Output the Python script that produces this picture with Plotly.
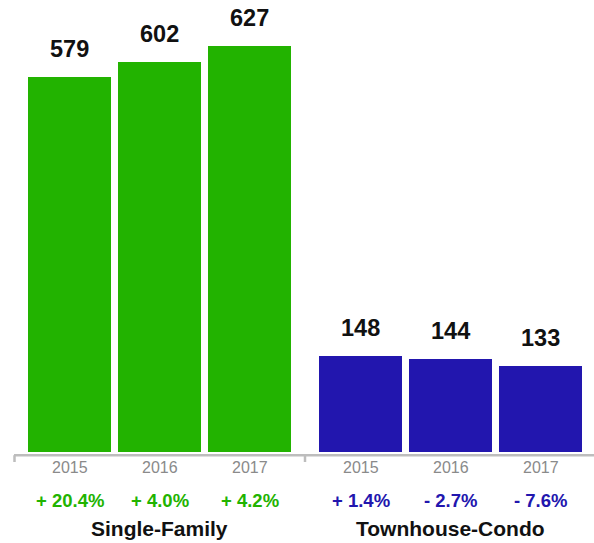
import plotly.graph_objects as go

# Sales counts by property type and year
groups = ["Single-Family", "Townhouse-Condo"]
years = ["2015", "2016", "2017"]
single_family = [579, 602, 627]
townhouse_condo = [148, 144, 133]
sf_change = ["+ 20.4%", "+ 4.0%", "+ 4.2%"]
tc_change = ["+ 1.4%", "- 2.7%", "- 7.6%"]

GREEN = "#22b300"
BLUE = "#2216ae"
AXIS_GRAY = "#bdbdbd"
YEAR_GRAY = "#8a8a8a"
FONT = "Liberation Sans, Arial, Helvetica, sans-serif"

W, H = 594, 543
BOTTOM = 91          # space below the bar baseline
PLOT_H = H - BOTTOM
Y_MAX = 697.5

# horizontal layout (x axis in pixel units)
FIRST_CENTER = 69.5
STEP = 90
GROUP_OFFSET = 291
BAR_W = 83

series = [
    (single_family, sf_change, GREEN),
    (townhouse_condo, tc_change, BLUE),
]

fig = go.Figure()
annotations = []
for g, (vals, changes, color) in enumerate(series):
    xs = [FIRST_CENTER + GROUP_OFFSET * g + STEP * i for i in range(len(vals))]
    fig.add_trace(go.Bar(
        x=xs, y=vals, width=BAR_W,
        marker=dict(color=color, line=dict(width=0)),
        hoverinfo="skip", showlegend=False,
    ))
    for x, v, yr, ch in zip(xs, vals, years, changes):
        annotations.append(dict(
            x=x, y=v, xref="x", yref="y", text=str(v), showarrow=False,
            yanchor="middle", yshift=28,
            font=dict(family=FONT, size=23.5, color="#111111", weight="bold"),
        ))
        annotations.append(dict(
            x=x, y=0, xref="x", yref="paper", text=yr, showarrow=False,
            yanchor="middle", yshift=-15.5,
            font=dict(family=FONT, size=16, color=YEAR_GRAY),
        ))
        annotations.append(dict(
            x=x, y=0, xref="x", yref="paper", text=ch, showarrow=False,
            yanchor="middle", yshift=-48,
            font=dict(family=FONT, size=18.5, color=color, weight="bold"),
        ))
    annotations.append(dict(
        x=xs[1], y=0, xref="x", yref="paper", text=groups[g], showarrow=False,
        yanchor="middle", yshift=-76,
        font=dict(family=FONT, size=21, color="#111111", weight="bold"),
    ))

# baseline rule and group separators
line_y = -3.2 / PLOT_H
tick_y = -10 / PLOT_H
sep_x = (FIRST_CENTER + STEP * 2 + BAR_W / 2 + FIRST_CENTER + GROUP_OFFSET - BAR_W / 2) / 2
shapes = [
    dict(type="line", xref="x", yref="paper", x0=14, x1=W, y0=line_y, y1=line_y,
         line=dict(color=AXIS_GRAY, width=2.5)),
    dict(type="line", xref="x", yref="paper", x0=14.5, x1=14.5, y0=line_y, y1=tick_y,
         line=dict(color=AXIS_GRAY, width=2.5)),
    dict(type="line", xref="x", yref="paper", x0=sep_x, x1=sep_x, y0=line_y, y1=tick_y,
         line=dict(color=AXIS_GRAY, width=2.5)),
]

fig.update_layout(
    width=W, height=H,
    margin=dict(l=0, r=0, t=0, b=BOTTOM, pad=0),
    paper_bgcolor="white", plot_bgcolor="white",
    xaxis=dict(range=[0, W], visible=False, fixedrange=True),
    yaxis=dict(range=[0, Y_MAX], visible=False, fixedrange=True),
    annotations=annotations, shapes=shapes,
    bargap=0,
)

fig.write_html("out.html")
